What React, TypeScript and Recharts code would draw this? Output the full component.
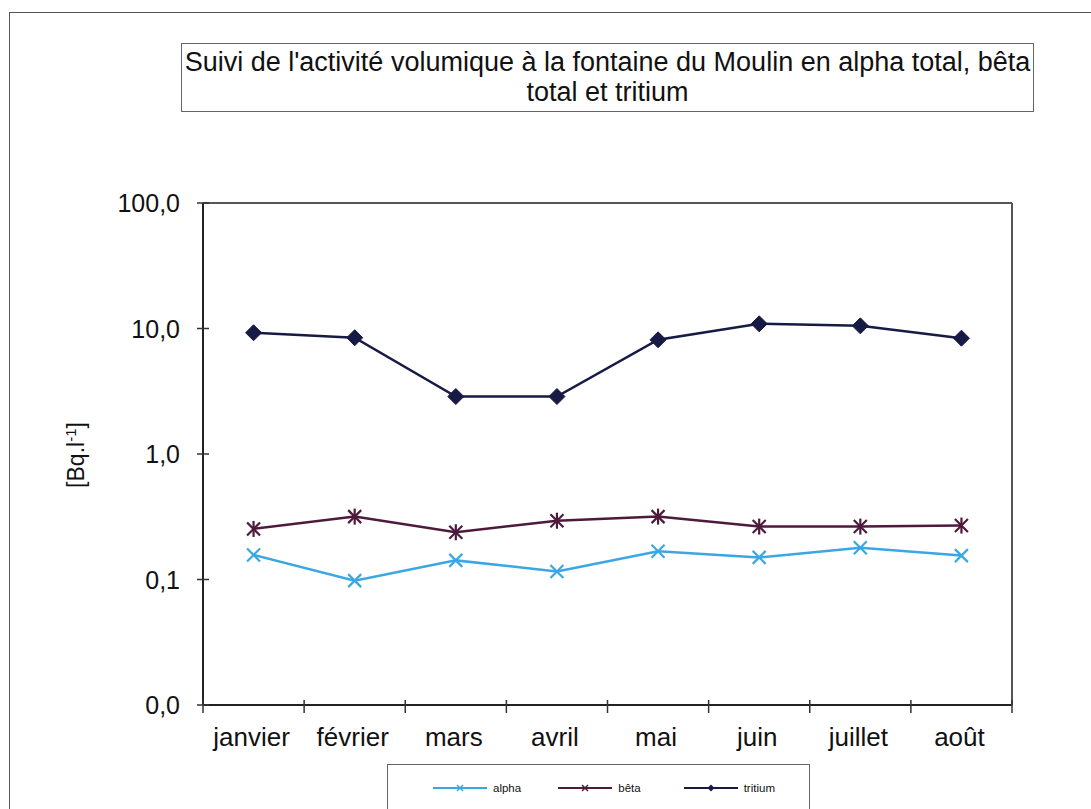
import React from 'react';
import { LineChart, Line, XAxis, YAxis, ReferenceLine } from 'recharts';

// monthly volumetric activity, Bq/l (log scale)
const months = ['janvier', 'février', 'mars', 'avril', 'mai', 'juin', 'juillet', 'août'];
const alphaValues = [0.157, 0.098, 0.142, 0.116, 0.168, 0.15, 0.179, 0.155];
const betaValues = [0.253, 0.317, 0.238, 0.294, 0.317, 0.264, 0.264, 0.269];
const tritiumValues = [9.25, 8.44, 2.87, 2.87, 8.13, 10.9, 10.5, 8.37];

const yTicks = [0.01, 0.1, 1, 10, 100];
const yTickLabels = ['0,0', '0,1', '1,0', '10,0', '100,0'];

const series = [
  { key: 'alpha', name: 'alpha', color: '#3aa7e4', marker: 'cross' },
  { key: 'beta', name: 'bêta', color: '#4d1a3c', marker: 'star' },
  { key: 'tritium', name: 'tritium', color: '#161a44', marker: 'diamond' },
];

const data = months.map((m, i) => ({
  month: m,
  alpha: alphaValues[i],
  beta: betaValues[i],
  tritium: tritiumValues[i],
}));

const W = 1091;
const H = 809;
const Y_AXIS_W = 80;
const X_AXIS_H = 40;
const RIGHT_AXIS_W = 10;
// plot area: x 203..1012, y 203..705
const margin = { top: 203, right: 79 - RIGHT_AXIS_W, bottom: 104 - X_AXIS_H, left: 203 - Y_AXIS_W };
const halfBand = (W - 203 - 79) / months.length / 2;
const FONT = "'Liberation Sans', Arial, sans-serif";

const Marker = ({ type, cx, cy, color }: any) => {
  if (type === 'diamond') {
    return (
      <path
        d={`M${cx},${cy - 8} L${cx + 8},${cy} L${cx},${cy + 8} L${cx - 8},${cy} Z`}
        fill={color}
        stroke={color}
      />
    );
  }
  const s = 6.5;
  return (
    <g stroke={color} strokeWidth={2.2} fill="none">
      <line x1={cx - s} y1={cy - s} x2={cx + s} y2={cy + s} />
      <line x1={cx - s} y1={cy + s} x2={cx + s} y2={cy - s} />
      {type === 'star' && <line x1={cx} y1={cy - 8} x2={cx} y2={cy + 8} />}
    </g>
  );
};

const makeDot = (type: string, color: string) => (props: any) => {
  const { cx, cy, index } = props;
  return <Marker key={`${type}-${index}`} type={type} cx={cx} cy={cy} color={color} />;
};

const XTick = (props: any) => {
  const { x, y, payload, index } = props;
  const last = index === months.length - 1;
  return (
    <g>
      <line x1={x - halfBand} x2={x - halfBand} y1={y - 5} y2={y + 8} stroke="#333" strokeWidth={1.5} />
      {last && (
        <line x1={x + halfBand} x2={x + halfBand} y1={y - 5} y2={y + 8} stroke="#333" strokeWidth={1.5} />
      )}
      <text x={x - 2} y={y + 41} textAnchor="middle" fontSize={26} fontFamily={FONT} fill="#111">
        {payload.value}
      </text>
    </g>
  );
};

const YTick = (props: any) => {
  const { x, y, payload } = props;
  const label = yTickLabels[yTicks.indexOf(payload.value)];
  return (
    <g>
      <line x1={x - 6} x2={x + 6} y1={y} y2={y} stroke="#333" strokeWidth={1.5} />
      <text x={x - 23} y={y + 9} textAnchor="end" fontSize={25} fontFamily={FONT} fill="#111">
        {label}
      </text>
    </g>
  );
};

export default function App() {
  return (
    <div
      style={{
        position: 'fixed',
        left: 0,
        top: 0,
        width: W,
        height: H,
        overflow: 'hidden',
        background: '#fff',
        fontFamily: FONT,
      }}
    >
      {/* outer frame */}
      <div
        style={{
          position: 'absolute',
          left: 9,
          top: 12,
          width: 1120,
          height: 840,
          border: '1.5px solid #555',
        }}
      />

      {/* title box */}
      <div
        style={{
          position: 'absolute',
          left: 181,
          top: 43,
          width: 853,
          height: 69,
          boxSizing: 'border-box',
          border: '1.5px solid #666',
          fontSize: 27,
          lineHeight: '30px',
          paddingTop: 3,
          textAlign: 'center',
          color: '#111',
          whiteSpace: 'nowrap',
        }}
      >
        Suivi de l'activité volumique à la fontaine du Moulin en alpha total, bêta
        <br />
        total et tritium
      </div>

      <div style={{ position: 'absolute', left: 0, top: 0 }}>
        <LineChart width={W} height={H} data={data} margin={margin}>
          <XAxis
            dataKey="month"
            scale="band"
            height={X_AXIS_H}
            tickSize={0}
            tickMargin={0}
            tick={<XTick />}
            tickLine={false}
            axisLine={{ stroke: '#222', strokeWidth: 2 }}
            interval={0}
          />
          <YAxis
            scale="log"
            domain={[0.01, 100]}
            ticks={yTicks}
            allowDataOverflow
            width={Y_AXIS_W}
            tickSize={0}
            tickMargin={0}
            tick={<YTick />}
            tickLine={false}
            axisLine={{ stroke: '#222', strokeWidth: 2 }}
            interval={0}
          />
          <YAxis
            yAxisId="right"
            orientation="right"
            width={RIGHT_AXIS_W}
            tick={false}
            tickLine={false}
            domain={[0, 1]}
            axisLine={{ stroke: '#555', strokeWidth: 2 }}
          />
          <ReferenceLine y={100} stroke="#555" strokeWidth={2} ifOverflow="visible" />
          {series.map((s) => (
            <Line
              key={s.key}
              dataKey={s.key}
              name={s.name}
              stroke={s.color}
              strokeWidth={2.5}
              dot={makeDot(s.marker, s.color)}
              activeDot={false}
              isAnimationActive={false}
            />
          ))}
        </LineChart>
      </div>

      {/* y axis title */}
      <div
        style={{
          position: 'absolute',
          left: 76,
          top: 455,
          transform: 'translate(-50%, -50%) rotate(-90deg)',
          fontSize: 23,
          whiteSpace: 'nowrap',
          color: '#111',
        }}
      >
        [Bq.l<sup style={{ fontSize: 15 }}>-1</sup>]
      </div>

      {/* legend */}
      <div
        style={{
          position: 'absolute',
          left: 387,
          top: 764,
          width: 423,
          height: 47,
          boxSizing: 'border-box',
          border: '1.5px solid #666',
          paddingLeft: 45,
          display: 'flex',
          alignItems: 'center',
        }}
      >
        {series.map((s) => (
          <div key={s.key} style={{ width: 127, display: 'flex', alignItems: 'center', height: 14 }}>
            <svg width={54} height={12}>
              <line x1={0} x2={54} y1={6} y2={6} stroke={s.color} strokeWidth={2} />
              {s.marker === 'diamond' ? (
                <path d="M27,2.5 L30.5,6 L27,9.5 L23.5,6 Z" fill={s.color} />
              ) : (
                <g stroke={s.color} strokeWidth={1.5}>
                  <line x1={24} y1={3} x2={30} y2={9} />
                  <line x1={24} y1={9} x2={30} y2={3} />
                </g>
              )}
            </svg>
            <span style={{ fontSize: 11.5, marginLeft: 6, color: '#111' }}>{s.name}</span>
          </div>
        ))}
      </div>
    </div>
  );
}
